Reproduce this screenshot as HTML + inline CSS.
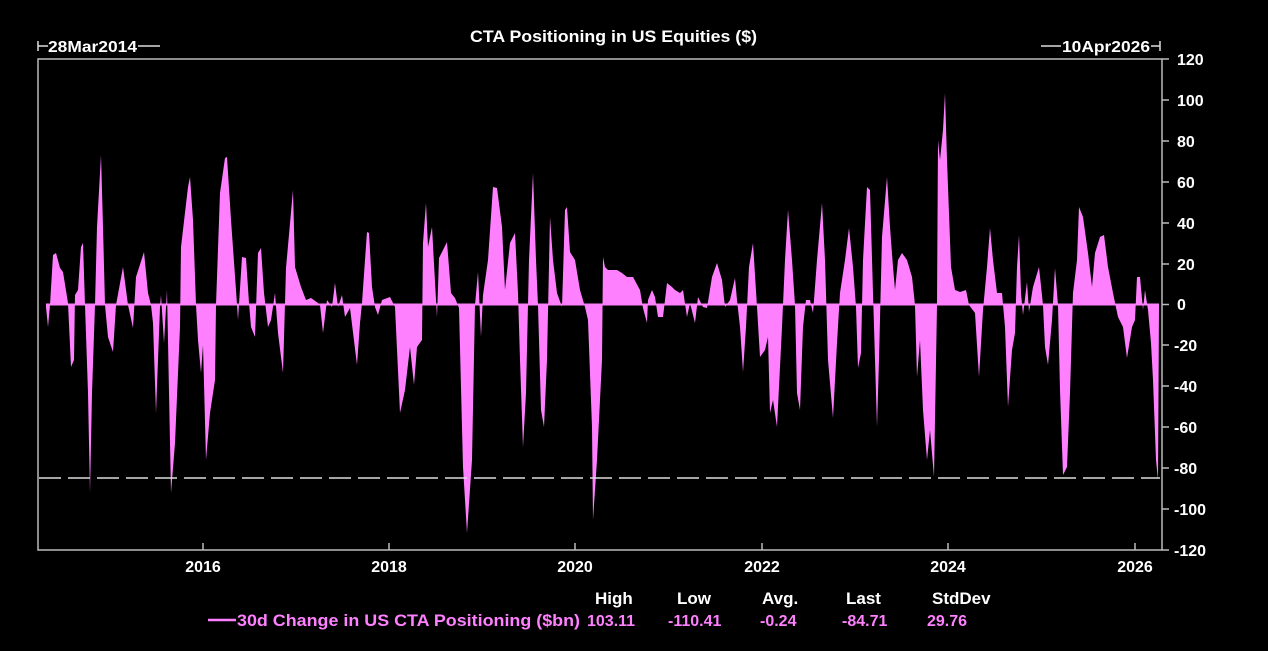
<!DOCTYPE html>
<html><head><meta charset="utf-8"><style>
html,body{margin:0;padding:0;background:#000;}
svg{display:block;font-family:"Liberation Sans",Arial,sans-serif;}
</style></head><body>
<svg width="1268" height="651" viewBox="0 0 1268 651" xmlns="http://www.w3.org/2000/svg">
<rect width="1268" height="651" fill="#000"/>
<text x="470" y="42" fill="#fff" font-size="17" font-weight="bold" textLength="287" lengthAdjust="spacingAndGlyphs">CTA Positioning in US Equities ($)</text>
<line x1="38" y1="41" x2="38" y2="51" stroke="#ddd" stroke-width="1.5"/>
<line x1="38" y1="46" x2="48" y2="46" stroke="#ddd" stroke-width="1.5"/>
<text x="48" y="52" fill="#fff" font-size="16" font-weight="bold" textLength="89" lengthAdjust="spacingAndGlyphs">28Mar2014</text>
<line x1="138" y1="46" x2="160" y2="46" stroke="#ddd" stroke-width="1.5"/>
<line x1="1041" y1="46" x2="1061" y2="46" stroke="#ddd" stroke-width="1.5"/>
<text x="1062" y="52" fill="#fff" font-size="16" font-weight="bold" textLength="88" lengthAdjust="spacingAndGlyphs">10Apr2026</text>
<line x1="1151" y1="46" x2="1160" y2="46" stroke="#ddd" stroke-width="1.5"/>
<line x1="1160" y1="41" x2="1160" y2="51" stroke="#ddd" stroke-width="1.5"/>
<rect x="38" y="59" width="1124" height="491" fill="none" stroke="#bbb" stroke-width="1.5"/>
<g stroke="#bbb" stroke-width="1.5">
<line x1="1162" y1="59" x2="1169" y2="59"/><line x1="1162" y1="100" x2="1169" y2="100"/><line x1="1162" y1="141" x2="1169" y2="141"/><line x1="1162" y1="182" x2="1169" y2="182"/><line x1="1162" y1="223" x2="1169" y2="223"/><line x1="1162" y1="264" x2="1169" y2="264"/><line x1="1162" y1="304.5" x2="1169" y2="304.5"/><line x1="1162" y1="345" x2="1169" y2="345"/><line x1="1162" y1="386" x2="1169" y2="386"/><line x1="1162" y1="427" x2="1169" y2="427"/><line x1="1162" y1="468" x2="1169" y2="468"/><line x1="1162" y1="509" x2="1169" y2="509"/><line x1="1162" y1="550" x2="1169" y2="550"/>
<line x1="203" y1="550" x2="203" y2="543"/><line x1="389" y1="550" x2="389" y2="543"/><line x1="575" y1="550" x2="575" y2="543"/><line x1="762" y1="550" x2="762" y2="543"/><line x1="948" y1="550" x2="948" y2="543"/><line x1="1135" y1="550" x2="1135" y2="543"/>
</g>
<g fill="#fff" font-size="16" font-weight="bold">
<text x="1177" y="65">120</text><text x="1177" y="106">100</text><text x="1177" y="147">80</text><text x="1177" y="188">60</text><text x="1177" y="229">40</text><text x="1177" y="270">20</text><text x="1177" y="310">0</text><text x="1174" y="351">-20</text><text x="1174" y="392">-40</text><text x="1174" y="433">-60</text><text x="1174" y="474">-80</text><text x="1174" y="515">-100</text><text x="1174" y="556">-120</text>
</g>
<g fill="#fff" font-size="16" font-weight="bold" text-anchor="middle">
<text x="203" y="572">2016</text><text x="389" y="572">2018</text><text x="575" y="572">2020</text><text x="762" y="572">2022</text><text x="948" y="572">2024</text><text x="1135" y="572">2026</text>
</g>
<polygon fill="#ff80ff" points="46,304.5 46,307 48,327 50,305 53,255 56,253 60,268 63,272 68,303 71,367 74,360 75,295 78,290 81,247 83,243 85,305 88,393 90,493 92,393 95,305 97,227 101,155 103,227 105,305 108,337 113,352 116,305 123,267 128,305 133,328 136,277 144,252 148,293 151,305 153,323 156,413 160,307 161,295 164,343 167,290 170,443 171,493 175,443 180,327 181,247 188,187 190,177 193,220 196,305 198,340 201,373 203,345 206,460 210,413 215,380 216,305 220,193 225,158 227,157 231,220 236,290 238,320 242,257 246,258 249,303 251,327 255,337 258,253 261,248 264,293 268,327 271,320 275,293 278,333 283,373 286,268 293,190 295,267 301,287 306,300 311,298 318,303 320,305 323,333 327,300 332,307 335,283 338,307 342,295 345,317 350,308 357,365 360,323 362,303 365,260 367,232 369,233 372,287 375,307 378,315 382,300 390,297 395,307 400,413 405,390 410,347 414,385 417,347 422,340 423,243 426,203 428,247 432,227 435,282 437,317 439,258 447,242 451,293 455,298 459,308 463,467 467,533 472,460 475,305 478,272 481,337 483,295 488,260 493,187 497,188 502,227 505,290 510,243 515,233 518,293 520,360 523,447 526,393 529,260 533,173 536,260 538,305 541,410 544,427 547,360 550,217 553,260 557,293 562,307 565,210 567,207 570,252 575,260 580,290 585,307 588,320 592,427 593,520 597,460 602,360 603,257 605,267 608,270 617,270 622,273 627,277 633,277 640,290 643,308 647,323 648,300 652,290 655,297 658,317 663,317 667,283 672,287 675,290 680,293 683,290 687,317 690,303 695,323 698,297 703,307 707,308 712,277 717,263 722,280 725,307 730,300 735,278 737,300 740,327 743,372 746,327 749,267 753,243 757,307 760,357 765,350 768,337 770,413 773,400 777,427 782,327 785,260 788,210 792,260 795,305 797,393 800,410 803,327 806,300 810,300 813,313 817,260 822,203 825,260 828,360 833,418 837,343 840,293 845,260 849,228 853,267 856,307 858,368 861,353 863,260 867,187 870,190 873,293 877,427 879,360 882,237 887,177 890,227 893,267 895,290 898,260 902,253 907,260 912,277 915,305 917,377 920,340 923,410 927,460 930,430 934,477 937,305 938,140 940,160 943,130 945,93 947,160 951,267 955,290 960,292 966,290 969,305 975,313 979,377 983,310 987,267 990,228 993,260 997,293 1002,293 1005,327 1008,407 1012,350 1015,333 1017,267 1019,235 1021,293 1023,315 1027,282 1029,312 1033,287 1039,267 1043,305 1045,347 1048,365 1052,320 1055,268 1058,305 1060,390 1063,475 1067,467 1070,393 1073,293 1077,260 1079,207 1083,217 1088,253 1092,287 1095,253 1100,237 1104,235 1108,267 1113,293 1118,317 1123,327 1127,358 1132,327 1135,320 1137,277 1140,277 1143,310 1145,290 1148,310 1151,343 1153,380 1156,460 1158,480 1159,305 1159,304.5"/>
<line x1="46" y1="304.5" x2="1159" y2="304.5" stroke="#ff80ff" stroke-width="2"/>
<line x1="39" y1="478" x2="1160" y2="478" stroke="#ddd" stroke-width="1.5" stroke-dasharray="22,7"/>
<g fill="#fff" font-size="17" font-weight="bold">
<text x="595" y="604">High</text><text x="677" y="604">Low</text><text x="762" y="604">Avg.</text><text x="846" y="604">Last</text><text x="932" y="604">StdDev</text>
</g>
<line x1="208" y1="620" x2="236" y2="620" stroke="#ff80ff" stroke-width="2.5"/>
<g fill="#ff80ff" font-size="16" font-weight="bold">
<text x="237" y="626" font-size="17" textLength="343" lengthAdjust="spacingAndGlyphs">30d Change in US CTA Positioning ($bn)</text>
<text x="587" y="626">103.11</text><text x="668" y="626">-110.41</text><text x="760" y="626">-0.24</text><text x="842" y="626">-84.71</text><text x="927" y="626">29.76</text>
</g>
</svg>
</body></html>
